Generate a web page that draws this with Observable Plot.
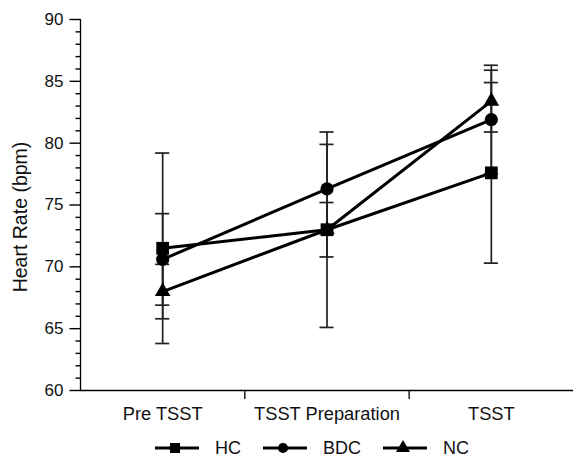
<!DOCTYPE html>
<html>
<head>
<meta charset="utf-8">
<script src="https://cdn.jsdelivr.net/npm/d3@7"></script>
<script src="https://cdn.jsdelivr.net/npm/@observablehq/plot@0.6"></script>
<style>
  html, body { margin: 0; padding: 0; background: #fff; }
  body { width: 573px; height: 466px; font-family: "Liberation Sans", Arial, Helvetica, sans-serif; }
  #legend { display: flex; align-items: center; height: 40px; padding-left: 155px; font-size: 18px; color: #111; }
  #legend .item { display: flex; align-items: center; margin-right: 22px; }
  #legend svg { margin-right: 16px; }
</style>
</head>
<body>
<div id="chart"></div>
<div id="legend"></div>
<script>
// ---- data ----
const categories = ["Pre TSST", "TSST Preparation", "TSST"];
const groups = ["HC", "BDC", "NC"];
const hcMean  = [71.5, 73.0, 77.6];
const hcSD    = [7.7, 7.9, 7.3];
const bdcMean = [70.6, 76.3, 81.9];
const bdcSD   = [3.7, 3.6, 4.4];
const ncMean  = [68.0, 73.0, 83.4];
const ncSD    = [2.2, 2.2, 2.5];
const yTicks = [60, 65, 70, 75, 80, 85, 90];
const yMinorTicks = [61, 62, 63, 64, 66, 67, 68, 69, 71, 72, 73, 74, 76, 77, 78, 79, 81, 82, 83, 84, 86, 87, 88, 89];
const yTitle = "Heart Rate (bpm)";

// ---- build table ----
const seriesMeans = {HC: hcMean, BDC: bdcMean, NC: ncMean};
const seriesSD = {HC: hcSD, BDC: bdcSD, NC: ncSD};
const rows = groups.flatMap(g => categories.map((c, i) => ({
  group: g, i, cat: c, mean: seriesMeans[g][i],
  lo: seriesMeans[g][i] - seriesSD[g][i], hi: seriesMeans[g][i] + seriesSD[g][i]
})));

const symbols = {HC: "square", BDC: "circle", NC: "triangle"};
const radii = {HC: 7.2, BDC: 6.6, NC: 5.8};
const capHalf = 0.043;

const W = 573, H = 428, ML = 80, MR = 0, MT = 19, MB = 38;
const pxPerUnit = (W - ML - MR) / categories.length;
const majorLen = 11 / pxPerUnit, minorLen = 5 / pxPerUnit;
const xLeft = -0.5;

const marks = [];
// error bars
for (const g of groups) {
  const d = rows.filter(r => r.group === g);
  marks.push(Plot.ruleX(d, {x: "i", y1: "lo", y2: "hi", stroke: "#222", strokeWidth: 1.7}));
  marks.push(Plot.ruleY(d, {y: "hi", x1: r => r.i - capHalf, x2: r => r.i + capHalf, stroke: "#222", strokeWidth: 1.7}));
  marks.push(Plot.ruleY(d, {y: "lo", x1: r => r.i - capHalf, x2: r => r.i + capHalf, stroke: "#222", strokeWidth: 1.7}));
}
// lines and markers
for (const g of groups) {
  const d = rows.filter(r => r.group === g);
  marks.push(Plot.line(d, {x: "i", y: "mean", stroke: "#000", strokeWidth: 3}));
}
for (const g of groups) {
  const d = rows.filter(r => r.group === g);
  marks.push(Plot.dot(d, {x: "i", y: "mean", symbol: () => symbols[g], r: radii[g], fill: "#000", stroke: "none"}));
}

const chart = Plot.plot({
  width: W,
  height: H,
  marginLeft: ML,
  marginRight: MR,
  marginTop: MT,
  marginBottom: MB,
  style: {fontFamily: "'Liberation Sans', Arial, Helvetica, sans-serif", fontSize: "17px"},
  x: {domain: [xLeft, categories.length - 0.5], axis: null},
  y: {domain: [60, 90], axis: null},
  symbol: {type: "identity"},
  marks: [
    Plot.axisY({ticks: yTicks, tickSize: 0, tickPadding: 17, tickFormat: d => d, label: null, fontSize: 17, fill: "#111"}),
    Plot.axisX({ticks: [0.5, 1.5], tickSize: 9, tickFormat: () => "", label: null, stroke: "#000", strokeWidth: 1.3}),
    Plot.axisX({ticks: categories.map((c, i) => i), tickSize: 0, tickPadding: 16, tickFormat: i => categories[i], label: null, fontSize: 18.3, fill: "#111"}),
    Plot.ruleX([xLeft], {stroke: "#000", strokeWidth: 1.3}),
    Plot.ruleY([60], {stroke: "#000", strokeWidth: 1.3}),
    Plot.text([yTitle], {frameAnchor: "left", rotate: -90, dx: -60, dy: 12, textAnchor: "middle", fontSize: 19.5, fill: "#111"}),
    ...marks,
    // y tick marks drawn in the left margin, in data coordinates
    Plot.link(yMinorTicks, {x1: () => xLeft - minorLen, x2: () => xLeft, y1: d => d, y2: d => d, stroke: "#000", strokeWidth: 1.4, clip: false}),
    Plot.link(yTicks, {x1: () => xLeft - majorLen, x2: () => xLeft, y1: d => d, y2: d => d, stroke: "#000", strokeWidth: 1.4, clip: false})
  ]
});
document.getElementById("chart").appendChild(chart);

// ---- legend ----
const legend = d3.select("#legend");
const legendSymbols = {HC: d3.symbolSquare, BDC: d3.symbolCircle, NC: d3.symbolTriangle};
const legendSizes = {HC: 100, BDC: 80, NC: 85};
for (const g of groups) {
  const item = legend.append("div").attr("class", "item");
  const svg = item.append("svg").attr("width", 44).attr("height", 20);
  svg.append("line").attr("x1", 0).attr("x2", 44).attr("y1", 10).attr("y2", 10).attr("stroke", "#000").attr("stroke-width", 3);
  svg.append("path").attr("transform", "translate(20,10)").attr("d", d3.symbol(legendSymbols[g], legendSizes[g])()).attr("fill", "#000");
  item.append("span").text(g);
}
</script>
</body>
</html>
